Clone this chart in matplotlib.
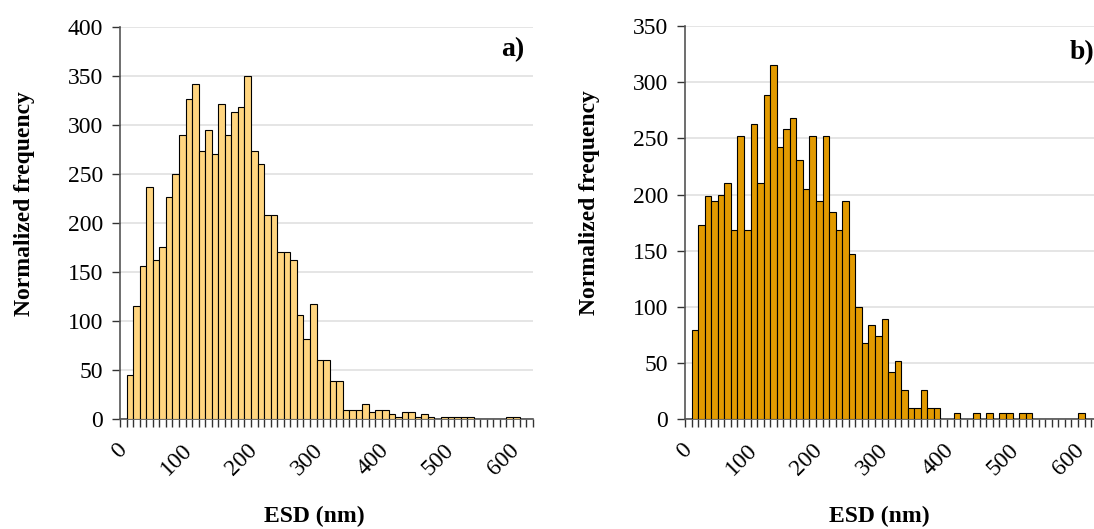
import numpy as np
import matplotlib
matplotlib.use('Agg')
import matplotlib.pyplot as plt
from matplotlib.ticker import FixedLocator, MultipleLocator

# ESD bins (nm), 10 nm wide, 0 .. 620
esd_bins = [10 * i for i in range(63)]

freq_a = [0, 45, 116, 156, 237, 163, 176, 227, 250, 290,
          327, 342, 274, 295, 271, 322, 290, 314, 319, 350,
          274, 261, 208, 208, 171, 171, 163, 106, 82, 118,
          61, 61, 39, 39, 10, 10, 10, 16, 7, 10,
          10, 5, 2, 7, 7, 2, 5, 2, 0, 2,
          2, 2, 2, 2, 0, 0, 0, 0, 0, 2,
          2, 0, 0]

freq_b = [0, 79, 173, 199, 194, 200, 210, 168, 252, 168,
          263, 210, 289, 315, 242, 258, 268, 231, 205, 252,
          194, 252, 184, 168, 194, 147, 100, 68, 84, 74,
          89, 42, 52, 26, 10, 10, 26, 10, 10, 0,
          0, 5, 0, 0, 5, 0, 5, 0, 5, 5,
          0, 5, 5, 0, 0, 0, 0, 0, 0, 0,
          5, 0, 0]

tick_vals = [0, 100, 200, 300, 400, 500, 600]

plt.rcParams['font.family'] = ['Liberation Serif', 'DejaVu Serif']

fig = plt.figure(figsize=(10.94, 5.29), dpi=100)
W, H = 1094.0, 529.0


def setup(ax, data, color, ymax, ylab_x):
    ax.bar(esd_bins, data, width=10, color=color, edgecolor='black',
           linewidth=0.8, zorder=3)
    ax.set_xlim(-5, 625)
    ax.set_ylim(0, ymax)
    ax.yaxis.set_major_locator(MultipleLocator(50))
    ax.grid(axis='y', color='#e0e0e0', linewidth=1.2, zorder=0)
    for s in ['top', 'right']:
        ax.spines[s].set_visible(False)
    for s in ['left', 'bottom']:
        ax.spines[s].set_color('#555555')
        ax.spines[s].set_linewidth(1.2)
    ax.set_xticks(tick_vals)
    ax.set_xticklabels([str(v) for v in tick_vals], rotation=45,
                       ha='right', va='center', rotation_mode='anchor',
                       fontsize=17)
    ax.tick_params(axis='x', which='major', length=0, pad=20)
    ax.xaxis.set_minor_locator(FixedLocator(np.arange(-5, 630, 10)))
    ax.tick_params(axis='x', which='minor', length=6, width=1,
                   color='#333333', direction='out')
    ax.tick_params(axis='y', length=6, width=1, color='#333333',
                   labelsize=17, pad=6)
    ax.set_ylabel('Normalized frequency', fontsize=17, fontweight='bold')
    ax.yaxis.set_label_coords(ylab_x, 0.55)
    ax.set_xlabel('ESD (nm)', fontsize=17, fontweight='bold')
    ax.xaxis.set_label_coords(0.47, -0.222)


# panel a
ax1 = fig.add_axes([120 / W, 1 - 419.3 / H, 412.7 / W, 392.0 / H])
setup(ax1, freq_a, '#FFD580', 400, -0.206)
ax1.text(0.952, 0.942, 'a)', transform=ax1.transAxes, fontsize=20,
         fontweight='bold', ha='center', va='center')

# panel b (runs past the right edge like the original)
ax2 = fig.add_axes([685 / W, 1 - 419.0 / H, 412.7 / W, 392.8 / H])
setup(ax2, freq_b, '#E29A00', 350, -0.205)
ax2.text(0.962, 0.934, 'b)', transform=ax2.transAxes, fontsize=20,
         fontweight='bold', ha='center', va='center')

fig.savefig('out.png', dpi=100)
